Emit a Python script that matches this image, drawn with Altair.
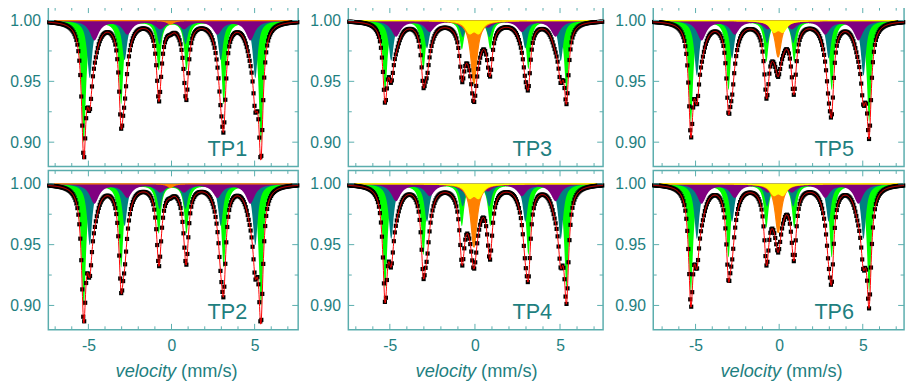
import numpy as np
import pandas as pd
import altair as alt

# ---------------- data ----------------
panel_names = ["TP1", "TP2", "TP3", "TP4", "TP5", "TP6"]

# line positions (mm/s) of each sub-spectrum
green_lines = [-5.28, -3.03, -0.77, 0.90, 3.14, 5.38]
teal_lines = [-4.92, -2.82, -0.72, 0.84, 2.96, 5.04]
purple_lines = [-4.64, -2.66, -0.68, 0.76, 2.76, 4.74]
orange_lines = [-0.06]
yellow_lines = [-0.32, 0.22]

# relative line depths
sextet_rel = [1.0, 0.68, 0.40, 0.40, 0.68, 1.0]
doublet_rel = [1.0, 1.0]
singlet_rel = [1.0]

# depth of the strongest line of each sub-spectrum, per panel (TP1..TP6)
green_depth = [0.100, 0.100, 0.058, 0.085, 0.083, 0.088]
teal_depth = [0.047, 0.050, 0.033, 0.045, 0.045, 0.045]
purple_depth = [0.016, 0.016, 0.013, 0.014, 0.016, 0.016]
orange_depth = [0.003, 0.003, 0.052, 0.052, 0.030, 0.040]
yellow_depth = [0.000, 0.000, 0.009, 0.010, 0.008, 0.008]

# half widths (mm/s)
hw_green, hw_teal, hw_purple, hw_orange, hw_yellow = 0.16, 0.18, 0.33, 0.22, 0.28

x_major = [-5, 0, 5]
x_minor = [-7, -6, -4, -3, -2, -1, 1, 2, 3, 4, 6, 7]
y_major = [0.90, 0.95, 1.00]
y_minor = [0.925, 0.975]

# velocity range shown in each column of panels
column_domains = [[-7.41, 7.62], [-7.44, 7.53], [-7.53, 7.47]]

# ---------------- style ----------------
frame_color = "#5aadad"
text_color = "#1e8080"
font = "Liberation Sans"
colors = {"green": "#00ff00", "teal": "#008080", "purple": "#800080",
          "orange": "#ff8000", "yellow": "#ffff00"}

y_dom = [0.880, 1.011]
H = 162


def sub(v, lines, rel, depth, hw):
    s = np.zeros_like(v)
    for c, r in zip(lines, rel):
        s += depth * r / (1.0 + ((v - c) / hw) ** 2)
    return s


def spectra(i, v):
    comps = {
        "green": sub(v, green_lines, sextet_rel, green_depth[i], hw_green),
        "teal": sub(v, teal_lines, sextet_rel, teal_depth[i], hw_teal),
        "purple": sub(v, purple_lines, sextet_rel, purple_depth[i], hw_purple),
        "orange": sub(v, orange_lines, singlet_rel, orange_depth[i], hw_orange),
        "yellow": sub(v, yellow_lines, doublet_rel, yellow_depth[i], hw_yellow),
    }
    total = sum(comps.values())
    return comps, total


yscale = alt.Scale(domain=y_dom, nice=False, zero=False)
yaxis = alt.Axis(values=y_major, format=".2f", ticks=False, domain=False, grid=False,
                 labelPadding=8, labelFontSize=16, labelColor=text_color,
                 labelFont=font, title=None)


def panel(i, col, width, show_x, label_x):
    dom = column_domains[col]
    xscale = alt.Scale(domain=dom, nice=False, zero=False)
    if show_x:
        xaxis = alt.Axis(values=x_major, ticks=False, domain=False, grid=False,
                         labelPadding=8, labelFontSize=16, labelColor=text_color,
                         labelFont=font, title=None,
                         labelExpr="datum.value < 0 ? '-' + abs(datum.value) : '' + datum.value")
    else:
        xaxis = None

    def X(f):
        return alt.X(f, type="quantitative", scale=xscale, axis=xaxis)

    def Y(f):
        return alt.Y(f, type="quantitative", scale=yscale, axis=yaxis)

    v = np.linspace(dom[0], dom[1], 901)
    comps, total = spectra(i, v)
    df = pd.DataFrame({"v": v, "base": 1.0, "fit": 1.0 - total})
    for k, s in comps.items():
        df[k] = 1.0 - s

    vp = np.linspace(dom[0] + 0.05, dom[1] - 0.05, 256)
    _, tp = spectra(i, vp)
    dpts = pd.DataFrame({"v": vp, "t": 1.0 - tp})

    layers = []
    for k in ["green", "teal", "purple", "orange", "yellow"]:
        if k == "yellow" and yellow_depth[i] == 0:
            continue
        if k in ("orange", "yellow"):
            mk = alt.Chart(df).mark_area(color=colors[k], opacity=1,
                                         line=alt.OverlayMarkDef(color=colors[k], strokeWidth=1.2))
        else:
            mk = alt.Chart(df).mark_area(color=colors[k], opacity=1)
        layers.append(mk.encode(x=X("v"), y=Y(k), y2="base"))

    layers.append(alt.Chart(dpts).mark_square(color="black", size=18, opacity=1)
                  .encode(x=X("v"), y=Y("t")))
    layers.append(alt.Chart(df).mark_line(color="#ff0000", strokeWidth=1)
                  .encode(x=X("v"), y=Y("fit")))

    # inward ticks
    for vals, ln in [(x_major, 6), (x_minor, 3.5)]:
        d = pd.DataFrame({"tk": vals})
        layers.append(alt.Chart(d).mark_rule(color=frame_color, strokeWidth=1)
                      .encode(x=X("tk"), y=alt.value(0), y2=alt.value(ln)))
        layers.append(alt.Chart(d).mark_rule(color=frame_color, strokeWidth=1)
                      .encode(x=X("tk"), y=alt.value(H), y2=alt.value(H - ln)))
    for vals, ln in [(y_major, 6), (y_minor, 3.5)]:
        d = pd.DataFrame({"tk": vals})
        layers.append(alt.Chart(d).mark_rule(color=frame_color, strokeWidth=1)
                      .encode(y=Y("tk"), x=alt.value(0), x2=alt.value(ln)))
        layers.append(alt.Chart(d).mark_rule(color=frame_color, strokeWidth=1)
                      .encode(y=Y("tk"), x=alt.value(width), x2=alt.value(width - ln)))

    lab = pd.DataFrame({"label": [panel_names[i]]})
    layers.append(alt.Chart(lab).mark_text(fontSize=22, font=font, color=text_color,
                                           align="center", baseline="alphabetic")
                  .encode(x=alt.value(label_x), y=alt.value(151), text="label:N"))

    if show_x:
        t1 = pd.DataFrame({"s": ["velocity"]})
        t2 = pd.DataFrame({"s": ["(mm/s)"]})
        layers.append(alt.Chart(t1).mark_text(fontSize=18.5, font=font, fontStyle="italic",
                                              color=text_color, align="right", baseline="middle")
                      .encode(x=alt.value(130), y=alt.value(204), text="s:N"))
        layers.append(alt.Chart(t2).mark_text(fontSize=18.5, font=font,
                                              color=text_color, align="left", baseline="middle")
                      .encode(x=alt.value(135), y=alt.value(204), text="s:N"))

    return alt.layer(*layers).properties(width=width, height=H)


col1 = alt.vconcat(panel(0, 0, 254, False, 182), panel(1, 0, 254, True, 182), spacing=0)
col2 = alt.vconcat(panel(2, 1, 259, False, 187), panel(3, 1, 259, True, 187), spacing=0)
col3 = alt.vconcat(panel(4, 2, 255, False, 184), panel(5, 2, 255, True, 184), spacing=0)

chart = (alt.hconcat(col1, col2, col3, spacing=7)
         .properties(padding={"left": 1, "right": 0, "top": -6, "bottom": 0})
         .configure_view(stroke=frame_color, strokeWidth=1.5))

chart.save("out.html", embed_options={"renderer": "svg", "actions": False})
